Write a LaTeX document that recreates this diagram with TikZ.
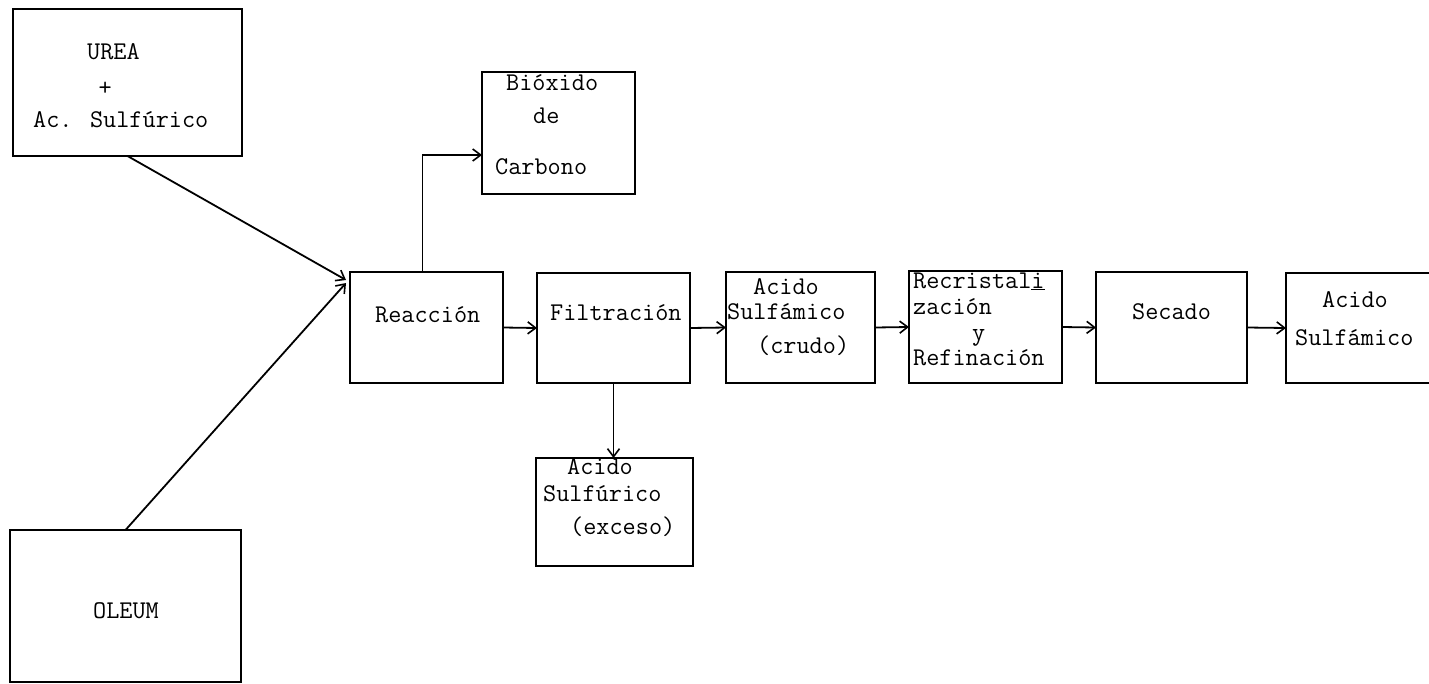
\documentclass[tikz,border=0pt]{standalone}
\usetikzlibrary{arrows.meta}
\begin{document}
\begin{tikzpicture}[x=1pt,y=-1pt,
  box/.style={draw, line width=2pt, rectangle, inner sep=0pt, outer sep=0pt},
  lbl/.style={inner sep=0pt, anchor=mid west, font=\ttfamily\fontsize{25.5}{30}\selectfont},
  arr/.style={line width=1.8pt, -{Straight Barb[length=8pt,width=12pt,line width=1.6pt]}},
  ln/.style={line width=1.8pt}]
\useasboundingbox (0,0) rectangle (1429,683);
\clip (0,0) rectangle (1429,683);
% boxes
\node[box, minimum width=229pt, minimum height=147pt] (urea)  at (127.5,82.5) {};
\node[box, minimum width=231pt, minimum height=152pt] (oleum) at (125.5,606) {};
\node[box, minimum width=153pt, minimum height=111pt] (reac)  at (426.5,327.5) {};
\node[box, minimum width=153pt, minimum height=110pt] (filt)  at (613.5,328) {};
\node[box, minimum width=153pt, minimum height=122pt] (biox)  at (558.5,133) {};
\node[box, minimum width=157pt, minimum height=108pt] (exc)   at (614.5,512) {};
\node[box, minimum width=149pt, minimum height=111pt] (crudo) at (800.5,327.5) {};
\node[box, minimum width=153pt, minimum height=112pt] (recr)  at (985.5,327) {};
\node[box, minimum width=151pt, minimum height=111pt] (sec)   at (1171.5,327.5) {};
\node[box, minimum width=154pt, minimum height=110pt] (fin)   at (1363,328) {};
% texts
\node[lbl] (t1) at (87,57) {UREA};
\node[lbl] (t2) at (98.5,93) {+};
\node[lbl] (t3) at (33,125) {Ac. Sulfúrico};
\node[lbl] (t4) at (93,616) {OLEUM};
\node[lbl] (t5) at (375,320) {Reacción};
\node[lbl] (t6) at (550,318) {Filtración};
\node[lbl] (t7) at (506,88) {Bióxido};
\node[lbl] (t8) at (533,121) {de};
\node[lbl] (t9) at (495,172) {Carbono};
\node[lbl] (t10) at (567,472) {Acido};
\node[lbl] (t11) at (543,499) {Sulfúrico};
\node[lbl] (t12) at (570,532) {(exceso)};
\node[lbl] (t13) at (753,292) {Acido};
\node[lbl] (t14) at (727,317) {Sulfámico};
\node[lbl] (t15) at (757,351) {(crudo)};
\node[lbl] (t16) at (913,286) {Recristal\underline{i}};
\node[lbl] (t17) at (913,312) {zación};
\node[lbl] (t18) at (972,338) {y};
\node[lbl] (t19) at (913,363) {Refinación};
\node[lbl] (t20) at (1132,317) {Secado};
\node[lbl] (t21) at (1322,305) {Acido};
\node[lbl] (t22) at (1295,343) {Sulfámico};
% connectors
\coordinate (in1) at (346,280);
\coordinate (in2) at (346,283);
\draw[arr] (urea.south) -- (in1);
\draw[arr] (oleum.north) -- (in2);
\draw[arr] ([xshift=-4pt]reac.north) |- ([yshift=-22pt]biox.west);
\draw[arr] (reac.east) -- (filt.west);
\draw[arr] (filt.south) -- (filt.south |- exc.north);
\draw[arr] (filt.east) -- (crudo.west);
\draw[arr] (crudo.east) -- (recr.west);
\draw[arr] (recr.east) -- (sec.west);
\draw[arr] (sec.east) -- (fin.west);
\end{tikzpicture}
\end{document}
